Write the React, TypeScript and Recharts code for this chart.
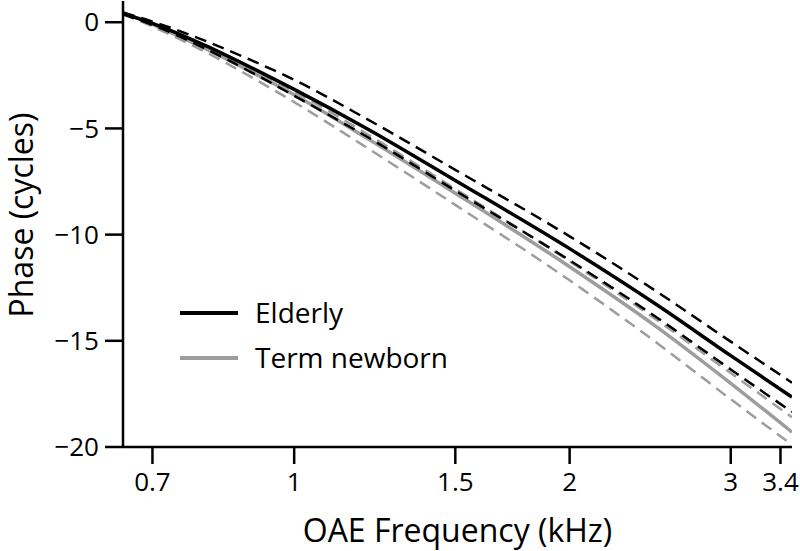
import React from 'react';
import { LineChart, Line, XAxis, YAxis, Legend } from 'recharts';

// OAE frequency (kHz)
const frequencies = [0.65, 0.7, 0.8, 0.9, 1.0, 1.2, 1.5, 2.0, 2.5, 3.0, 3.5];

// Phase (cycles)
const elderlyMean = [0.42, -0.05, -1.1, -2.16, -3.16, -5.0, -7.45, -10.66, -13.35, -15.7, -17.65];
const elderlyUpper = [0.45, 0.03, -0.88, -1.81, -2.71, -4.55, -6.95, -10.08, -12.73, -15.04, -16.97];
const elderlyLower = [0.37, -0.13, -1.25, -2.38, -3.46, -5.38, -7.93, -11.21, -13.95, -16.35, -18.35];
const newbornUpper = [0.47, -0.05, -1.15, -2.23, -3.26, -5.25, -7.85, -11.26, -14.07, -16.52, -18.6];
const newbornMean = [0.47, -0.1, -1.25, -2.36, -3.41, -5.45, -8.05, -11.51, -14.4, -17.0, -19.3];
const newbornLower = [0.42, -0.2, -1.4, -2.61, -3.76, -5.9, -8.6, -12.15, -15.15, -17.75, -19.9];

const xTicks = [0.7, 1, 1.5, 2, 3, 3.4];
const yTicks = [0, -5, -10, -15, -20];

const legendLabels = ['Elderly', 'Term newborn'];
const legendColors = ['#000000', '#9d9d9d'];

const data = frequencies.map((f, i) => ({
  f,
  eMean: elderlyMean[i],
  eUp: elderlyUpper[i],
  eLo: elderlyLower[i],
  nUp: newbornUpper[i],
  nMean: newbornMean[i],
  nLo: newbornLower[i],
}));

const FONT = '"Open Sans", sans-serif';
const BLACK = '#000000';
const GRAY = '#9d9d9d';

const fmt = (v: number) => String(v).replace('-', '\u2212');

function LegendContent() {
  return (
    <div style={{ fontFamily: FONT, fontSize: 28, color: '#000' }}>
      {legendLabels.map((lab, i) => (
        <div key={lab} style={{ display: 'flex', alignItems: 'center', height: 45 }}>
          <svg width={58} height={6} style={{ display: 'block' }}>
            <line x1={0} y1={3} x2={58} y2={3} stroke={legendColors[i]} strokeWidth={4} />
          </svg>
          <span style={{ marginLeft: 17, whiteSpace: 'nowrap', lineHeight: '45px' }}>{lab}</span>
        </div>
      ))}
    </div>
  );
}

export default function App() {
  return (
    <div style={{ position: 'absolute', left: 0, top: 0, width: 800, height: 551, background: '#fff' }}>
      <LineChart width={800} height={551} data={data} margin={{ top: 1, right: 8, bottom: 0, left: 0 }}>
        <XAxis
          dataKey="f"
          type="number"
          scale="log"
          domain={[0.65, 3.5]}
          allowDataOverflow
          ticks={xTicks}
          interval={0}
          height={104}
          tickSize={17}
          tickMargin={9}
          axisLine={{ stroke: BLACK, strokeWidth: 2.5 }}
          tickLine={{ stroke: BLACK, strokeWidth: 2.5 }}
          tick={{ fill: BLACK, fontSize: 26, fontFamily: FONT }}
          label={{
            content: () => (
              <text x={457.5} y={542} textAnchor="middle" fontSize={32} fontFamily={FONT} fill={BLACK}>
                OAE Frequency (kHz)
              </text>
            ),
          }}
        />
        <YAxis
          type="number"
          domain={[-20, 1]}
          allowDataOverflow
          ticks={yTicks}
          interval={0}
          width={123}
          tickSize={18}
          tickMargin={6}
          tickFormatter={fmt}
          axisLine={{ stroke: BLACK, strokeWidth: 2.5 }}
          tickLine={{ stroke: BLACK, strokeWidth: 2.5 }}
          tick={{ fill: BLACK, fontSize: 26, fontFamily: FONT }}
          label={{
            content: () => (
              <text
                x={33}
                y={215}
                transform="rotate(-90 33 215)"
                textAnchor="middle"
                fontSize={32}
                fontFamily={FONT}
                fill={BLACK}
              >
                Phase (cycles)
              </text>
            ),
          }}
        />
        <Legend
          layout="horizontal"
          verticalAlign="middle"
          align="center"
          content={() => <LegendContent />}
          wrapperStyle={{ left: 180, top: 290, width: 'auto', height: 'auto' }}
        />
        <Line dataKey="nLo" type="monotone" stroke={GRAY} strokeWidth={2.5} strokeDasharray="12 7" dot={false} isAnimationActive={false} legendType="none" />
        <Line dataKey="nUp" type="monotone" stroke={GRAY} strokeWidth={2.5} strokeDasharray="12 7" dot={false} isAnimationActive={false} legendType="none" />
        <Line dataKey="nMean" type="monotone" stroke={GRAY} strokeWidth={3.5} dot={false} isAnimationActive={false} />
        <Line dataKey="eLo" type="monotone" stroke={BLACK} strokeWidth={2.5} strokeDasharray="12 7" dot={false} isAnimationActive={false} legendType="none" />
        <Line dataKey="eUp" type="monotone" stroke={BLACK} strokeWidth={2.5} strokeDasharray="12 7" dot={false} isAnimationActive={false} legendType="none" />
        <Line dataKey="eMean" type="monotone" stroke={BLACK} strokeWidth={3.5} dot={false} isAnimationActive={false} />
      </LineChart>
    </div>
  );
}
